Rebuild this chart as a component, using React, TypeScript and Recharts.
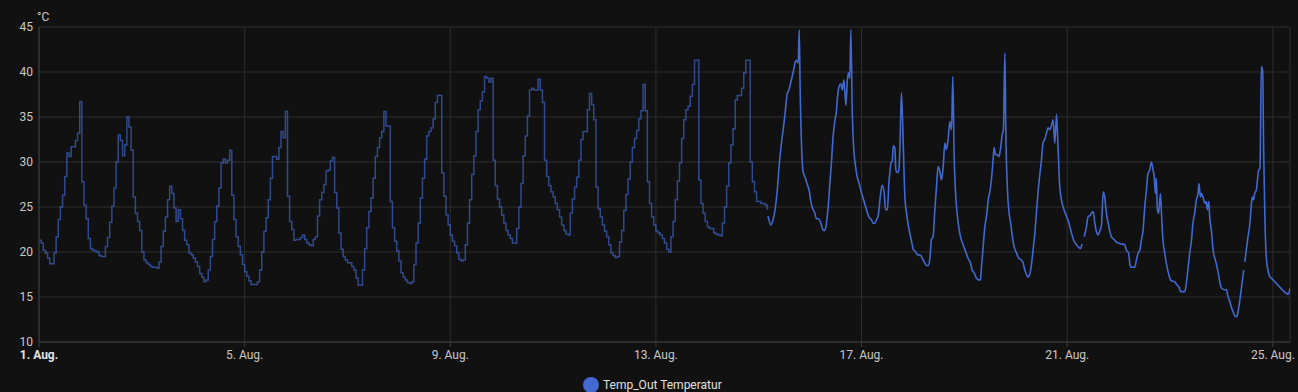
import { LineChart, Line, XAxis, YAxis, CartesianGrid } from "recharts";

// hourly means (long-term statistics), one value per hour from 1 Aug 00:00
const statTemps = [
  // 1 Aug
  21.3, 21.0, 20.2, 19.9, 19.3, 18.7, 18.7, 19.9, 21.7, 23.6, 25.0, 26.3, 28.4, 31.0, 30.6, 31.7, 31.7, 32.4, 33.2, 36.7, 27.8, 25.2, 23.7, 21.5,
  // 2 Aug
  20.4, 20.2, 20.1, 20.0, 19.6, 19.5, 19.5, 20.6, 21.6, 23.3, 25.1, 27.1, 30.0, 33.0, 32.4, 30.7, 31.9, 35.0, 33.9, 31.3, 26.1, 24.3, 23.4, 22.4,
  // 3 Aug
  20.0, 19.1, 18.8, 18.6, 18.4, 18.3, 18.3, 18.2, 18.9, 20.6, 22.3, 23.9, 25.8, 27.3, 26.5, 24.9, 23.4, 24.7, 23.7, 22.4, 21.3, 20.8, 19.9, 19.7,
  // 4 Aug
  19.3, 18.9, 18.4, 17.6, 17.2, 16.7, 16.9, 18.0, 19.5, 21.4, 23.4, 25.1, 27.1, 29.9, 30.3, 29.9, 30.2, 31.3, 26.3, 23.6, 21.7, 20.6, 19.7, 18.6,
  // 5 Aug
  17.8, 17.3, 16.8, 16.4, 16.4, 16.4, 16.7, 18.0, 20.0, 22.3, 23.8, 25.8, 28.2, 30.6, 30.6, 30.3, 31.6, 33.4, 32.7, 35.6, 26.2, 23.4, 22.5, 21.3,
  // 6 Aug
  21.4, 21.4, 21.6, 21.9, 21.4, 21.0, 20.8, 20.7, 21.4, 21.7, 24.0, 25.8, 26.6, 27.5, 29.0, 29.1, 30.1, 30.5, 26.6, 24.9, 22.1, 20.3, 19.5, 19.1,
  // 7 Aug
  18.8, 18.8, 18.4, 18.0, 17.1, 16.3, 16.3, 18.0, 20.4, 22.7, 24.5, 26.0, 28.2, 30.6, 31.6, 32.7, 33.4, 35.6, 34.0, 34.0, 25.6, 22.7, 21.2, 20.1,
  // 8 Aug
  19.0, 17.7, 17.2, 16.9, 16.6, 16.5, 16.7, 18.6, 21.0, 23.2, 26.0, 28.2, 30.3, 32.9, 33.4, 33.8, 34.8, 36.6, 37.4, 37.4, 28.8, 26.2, 24.1, 23.0,
  // 9 Aug
  21.9, 21.2, 20.7, 19.9, 19.2, 19.0, 19.1, 20.8, 23.2, 25.8, 28.6, 30.7, 33.4, 35.8, 36.8, 37.8, 39.5, 39.3, 38.9, 39.3, 30.2, 27.4, 25.9, 25.0,
  // 10 Aug
  24.1, 23.2, 22.4, 21.9, 21.5, 21.0, 21.0, 22.6, 25.0, 27.6, 30.7, 32.9, 35.1, 38.0, 38.2, 38.0, 38.0, 39.2, 38.0, 36.6, 30.2, 28.4, 27.4, 26.7,
  // 11 Aug
  26.1, 25.4, 24.7, 23.9, 23.0, 22.4, 22.0, 21.9, 24.3, 25.9, 27.2, 28.3, 30.2, 32.5, 33.4, 33.4, 35.8, 37.6, 36.4, 34.7, 27.2, 24.8, 23.9, 23.0,
  // 12 Aug
  22.3, 21.7, 20.8, 19.9, 19.6, 19.4, 19.5, 21.1, 22.4, 24.6, 26.4, 28.1, 30.0, 31.6, 32.6, 33.5, 34.8, 35.7, 38.6, 35.7, 27.8, 25.4, 23.9, 23.0,
  // 13 Aug
  22.3, 22.1, 21.9, 21.5, 21.0, 20.3, 20.0, 21.7, 23.4, 25.8, 27.9, 29.9, 32.6, 34.7, 35.8, 36.2, 37.3, 38.6, 41.3, 41.3, 28.0, 25.4, 24.3, 23.4,
  // 14 Aug
  22.8, 22.6, 22.6, 22.1, 22.0, 21.9, 21.8, 23.2, 25.0, 27.3, 29.9, 31.9, 33.7, 36.9, 37.4, 37.4, 38.2, 39.9, 41.3, 41.3, 30.0, 27.8, 26.7, 25.6,
  // 15 Aug, until the short-term data takes over
  25.6, 25.4, 25.4, 25.2, 24.7,
];

// short-term (5 min) history, sampled at the turning points: hours since 1 Aug 00:00
const liveHours = [
  340.3, 341.7, 342.7, 343.8, 344.8, 345.5, 346.3, 347.4, 348.2, 349.3, 350.1, 351.0, 352.1, 352.9, 353.6, 354.4, 354.9, 355.3, 356.0, 356.7,
  357.8, 358.8, 359.5, 360.2, 360.9, 362.2, 362.9, 364.0, 365.0, 366.1, 366.9, 367.6, 368.4, 369.2, 370.0, 370.7, 371.5, 372.3, 372.8, 373.5,
  374.3, 375.0, 375.7, 376.2, 376.7, 377.3, 377.9, 378.5, 379.0, 379.6, 380.4, 381.2, 381.9, 382.9, 383.6, 384.3, 385.2, 386.3, 387.4, 388.6,
  389.4, 390.2, 391.0, 391.8, 392.9, 393.6, 394.6, 395.2, 396.1, 396.7, 397.2, 397.7, 398.3, 398.8, 399.5, 400.0, 400.8, 401.4, 401.9, 402.6,
  403.4, 404.2, 405.0, 405.8, 406.5, 407.3, 408.1, 408.9, 410.1, 411.7, 412.3, 413.5, 414.3, 415.1, 415.9, 416.6, 417.4, 418.2, 419.0, 419.7,
  420.5, 421.3, 422.1, 422.9, 423.6, 424.4, 425.2, 426.0, 426.6, 427.2, 427.8, 428.6, 429.4, 430.3, 431.4, 432.5, 433.7, 434.8, 435.6, 436.5,
  437.6, 438.7, 439.5, 440.0, 440.7, 441.5, 442.5, 443.1, 443.9, 444.6, 445.3, 445.9, 446.5, 447.4, 448.1, 449.0, 449.6, 450.2, 450.9, 451.3,
  452.1, 452.9, 453.7, 454.4, 455.2, 456.3, 457.4, 458.6, 459.4, 460.2, 461.0, 461.7, 462.5, 463.3, 464.1, 464.9, 465.6, 466.4, 467.2, 468.0,
  468.7, 469.5, 470.3, 471.1, 471.8, 472.6, 473.4, 474.2, 475.0, 475.7, 476.5, 477.3, 478.5, 479.6, 480.7, 482.0, 483.2, 484.3, 485.4, 486.3,
  486.9, 487.4, 487.9, 489.0, 489.8, 490.5, 491.3, 492.1, 492.9, 493.6, 494.4, 495.2, 496.0, 496.8, 497.5, 498.3, 499.1, 499.9, 500.6, 501.4,
  502.2, 503.0, 503.8, 505.3, 506.9, 507.6, 508.4, 508.9, 509.2, 510.0, 511.5, 512.3, 513.1, 513.9, 514.6, 515.4, 516.2, 517.0, 517.7, 518.5,
  519.3, 520.1, 520.6, 521.2, 521.6, 522.1, 522.7, 523.5, 524.0, 524.7, 525.5, 526.3, 527.1, 527.9, 528.6, 530.2, 531.3, 532.2, 533.0, 534.9,
  535.6, 536.4, 537.2, 538.0, 538.7, 539.5, 540.3, 541.1, 541.5, 542.2, 542.6, 543.4, 544.2, 544.9, 545.4, 546.1, 546.5, 547.3, 548.1, 548.9,
  549.6, 550.4, 551.2, 552.0, 553.5, 554.3, 555.1, 555.9, 556.6, 557.4, 558.2, 559.0, 559.4, 560.0, 561.0, 561.8, 562.4, 562.65, 562.9, 563.6,
  564.4, 565.2, 566.0, 566.4, 567.0, 567.5, 568.3, 568.8, 569.4, 570.0, 570.6, 571.2, 571.7, 572.2, 572.9, 573.7, 574.5, 575.3, 576.1, 576.9,
  577.6, 578.4, 579.2, 580.0, 581.2, 582.3, 583.3, 584.0,
];

// null = gap in the recorder data
const liveTemps = [
  24.0, 23.0, 23.6, 25.0, 27.3, 29.5, 31.5, 33.6, 35.2, 37.6, 38.0, 38.9, 40.0, 41.0, 41.3, 41.0, 44.7, 38.4, 31.7, 28.9,
  28.2, 27.4, 26.9, 25.8, 25.0, 24.3, 23.7, 23.7, 23.2, 22.4, 22.4, 23.2, 25.0, 27.6, 30.2, 32.8, 34.5, 35.8, 37.3, 38.4,
  38.7, 38.0, 39.1, 37.8, 36.3, 38.9, 39.9, 39.3, 44.7, 36.1, 31.3, 29.5, 28.4, 27.6, 26.9, 26.3, 25.6, 24.7, 23.9, 23.6,
  23.2, 23.2, 23.6, 24.1, 26.5, 27.4, 26.4, 24.7, 24.7, 27.5, 28.8, 29.9, 30.1, 31.8, 31.6, 29.1, 28.8, 29.1, 31.6, 37.7,
  32.5, 26.2, 24.3, 23.0, 22.1, 21.2, 20.3, 20.1, 19.7, 19.6, 19.3, 18.8, 18.5, 18.5, 19.3, 21.4, 21.7, 24.7, 27.3, 29.5,
  29.0, 28.0, 29.5, 32.1, 31.4, 32.5, 34.5, 33.6, 39.5, 30.8, 26.9, 24.3, 22.7, 21.6, 20.8, 20.1, 19.3, 18.8, 18.0, 17.7,
  17.1, 16.9, 16.9, 18.4, 20.4, 22.7, 24.3, 25.8, 26.7, 28.0, 29.9, 31.6, 30.8, 30.8, 30.6, 31.7, 33.0, 33.6, 42.1, 34.0,
  26.9, 24.3, 23.0, 21.7, 20.6, 19.9, 19.3, 19.1, 18.8, 18.0, 17.5, 17.2, 17.5, 18.6, 20.3, 22.1, 24.3, 26.7, 28.6, 30.3,
  32.1, 32.5, 33.2, 33.8, 33.6, 34.0, 34.7, 32.1, 35.3, 31.7, 27.3, 25.8, 24.7, 24.0, 23.3, 22.1, 21.2, 20.8, 20.5, 20.4,
  20.9, null, 21.7, 22.8, 24.0, 24.0, 24.3, 24.5, 23.2, 22.3, 21.9, 22.3, 23.0, 26.7, 26.1, 24.3, 23.2, 22.3, 21.7, 21.5,
  21.3, 21.1, 21.0, 20.9, 20.8, 20.2, 20.0, 19.5, 18.7, 18.3, 18.3, 19.1, 19.9, 20.2, 21.3, 22.4, 25.0, 26.9, 28.7, 29.1,
  30.0, 29.1, 28.4, 26.5, 28.2, 24.7, 24.3, 26.5, 24.3, 21.3, 19.9, 18.7, 17.8, 17.1, 16.8, 16.7, 16.3, 16.1, 15.6, 15.6,
  16.5, 18.2, 19.9, 21.3, 23.2, 24.3, 25.8, 26.5, 27.6, 26.1, 26.5, 26.1, 25.4, 25.6, 24.7, 25.6, 23.9, 22.4, 20.2, 19.3,
  18.7, 17.8, 16.7, 16.0, 15.8, 15.8, 15.0, 14.5, 13.9, 13.4, 12.9, 12.8, 13.0, 13.7, 15.4, 16.9, 18.0, null, 18.9, 20.2,
  21.7, 23.0, 25.4, 26.1, 25.8, 26.5, 26.9, 28.0, 29.1, 29.3, 40.6, 40.2, 31.3, 24.7, 19.5, 18.0, 17.3, 17.1, 16.9, 16.7,
  16.5, 16.3, 16.1, 15.9, 15.6, 15.4, 15.3, 16.0,
];

const tickHours = [0, 96, 192, 288, 384, 480, 576];
const dayLabels = ["1. Aug.", "5. Aug.", "9. Aug.", "13. Aug.", "17. Aug.", "21. Aug.", "25. Aug."];
const yTicks = [10, 15, 20, 25, 30, 35, 40, 45];

const seriesName = "Temp_Out Temperatur";
const unit = "°C";
const color = "#4269d0";

const statData = statTemps.map((v, i) => ({ t: i, v }));
const liveData = liveHours.map((t, i) => ({ t, v: liveTemps[i] }));

function DayTick(props: any) {
  const { x, y, payload } = props;
  const i = tickHours.indexOf(payload.value);
  const first = i === 0;
  return (
    <text
      x={x}
      y={y}
      dy={10}
      textAnchor="middle"
      fontSize={12}
      fontWeight={first ? 700 : 400}
      fill={first ? "#e3e3e3" : "#c9c9c9"}
    >
      {dayLabels[i]}
    </text>
  );
}

export default function App() {
  return (
    <div
      style={{
        position: "relative",
        width: 1298,
        height: 392,
        overflow: "hidden",
        background: "#111111",
        fontFamily: "Roboto, sans-serif",
      }}
    >
      <style>{"body{margin:0;background:#111111;}"}</style>
      <div
        style={{
          position: "absolute",
          left: 37,
          top: 11,
          fontSize: 12,
          lineHeight: "12px",
          color: "#c9c9c9",
        }}
      >
        {unit}
      </div>
      <LineChart
        width={1298}
        height={372}
        margin={{ top: 27, right: 8, bottom: 0, left: 0 }}
      >
        <CartesianGrid stroke="#2e2e2e" strokeWidth={1} />
        <XAxis
          dataKey="t"
          type="number"
          domain={[0, 584]}
          allowDataOverflow
          ticks={tickHours}
          interval={0}
          height={30}
          tickSize={5}
          tickMargin={2}
          axisLine={{ stroke: "#3c3c3c" }}
          tickLine={{ stroke: "#3c3c3c" }}
          tick={<DayTick />}
        />
        <YAxis
          type="number"
          domain={[10, 45]}
          ticks={yTicks}
          interval={0}
          width={39}
          tickSize={0}
          tickMargin={6}
          axisLine={{ stroke: "#3c3c3c" }}
          tickLine={false}
          tick={{ fill: "#c9c9c9", fontSize: 12 }}
        />
        <Line
          data={statData}
          dataKey="v"
          type="stepAfter"
          stroke={color}
          strokeOpacity={0.65}
          strokeWidth={1.5}
          dot={false}
          activeDot={false}
          isAnimationActive={false}
        />
        <Line
          data={liveData}
          dataKey="v"
          type="monotone"
          stroke={color}
          strokeWidth={1.6}
          dot={false}
          activeDot={false}
          isAnimationActive={false}
        />
      </LineChart>
      <div
        style={{
          position: "absolute",
          left: 583,
          top: 377,
          display: "flex",
          alignItems: "center",
          gap: 4,
          fontSize: 12,
          color: "#e1e1e1",
          whiteSpace: "nowrap",
        }}
      >
        <span
          style={{
            width: 16,
            height: 16,
            borderRadius: "50%",
            background: color,
            display: "inline-block",
          }}
        />
        <span>{seriesName}</span>
      </div>
    </div>
  );
}
